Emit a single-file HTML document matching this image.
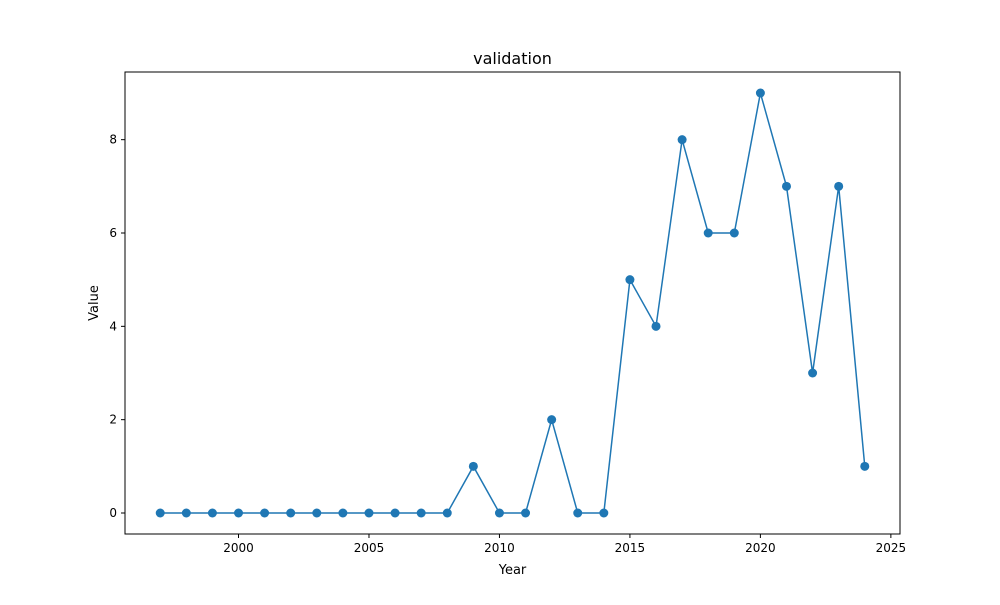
<!DOCTYPE html>
<html><head><meta charset="utf-8"><style>
body{margin:0;background:#fff;font-family:"Liberation Sans","DejaVu Sans",sans-serif;}
</style></head><body>
<svg id="chart" width="1000" height="600" xmlns="http://www.w3.org/2000/svg" font-family="DejaVu Sans, Liberation Sans, sans-serif">
<rect width="1000" height="600" fill="#fff"/>
<text x="512.5" y="64" font-size="16" text-anchor="middle">validation</text>
<text x="512.5" y="574" font-size="13" text-anchor="middle">Year</text>
<text x="98" y="303" font-size="13" text-anchor="middle" transform="rotate(-90 98 303)">Value</text>
<g id="plot"></g>
<rect x="125" y="72" width="775" height="462" fill="none" stroke="#000" stroke-width="1"/>
</svg>
<script>
const years=[1997,1998,1999,2000,2001,2002,2003,2004,2005,2006,2007,2008,2009,2010,2011,2012,2013,2014,2015,2016,2017,2018,2019,2020,2021,2022,2023,2024];
const values=[0,0,0,0,0,0,0,0,0,0,0,0,1,0,0,2,0,0,5,4,8,6,6,9,7,3,7,1];
const xTicks=[2000,2005,2010,2015,2020,2025];
const yTicks=[0,2,4,6,8];
const L=125,R=900,T=72,B=534;
const xmin=Math.min(...years),xmax=Math.max(...years),xp=(xmax-xmin)*0.05;
const ymin=Math.min(...values),ymax=Math.max(...values),yp=(ymax-ymin)*0.05;
const x=v=>L+(v-(xmin-xp))/((xmax+xp)-(xmin-xp))*(R-L);
const y=v=>B-(v-(ymin-yp))/((ymax+yp)-(ymin-yp))*(B-T);
const ns="http://www.w3.org/2000/svg",g=document.getElementById('plot');
function mk(t,a){const e=document.createElementNS(ns,t);for(const k in a)e.setAttribute(k,a[k]);g.appendChild(e);return e;}
xTicks.forEach(t=>{
  const l=mk('line',{x1:x(t),x2:x(t),y1:B,y2:B+4,stroke:'#000'});
  
  
  const tx=mk('text',{x:x(t),y:B+18,'font-size':12,'text-anchor':'middle'});tx.textContent=t;
  
  
});
yTicks.forEach(t=>{
  const l=mk('line',{x1:L-4,x2:L,y1:y(t),y2:y(t),stroke:'#000'});
  
  
  const tx=mk('text',{x:L-8,y:y(t)+4,'font-size':12,'text-anchor':'end'});tx.textContent=t;
  
  
});
const line=mk('polyline',{points:years.map((yr,i)=>x(yr)+','+y(values[i])).join(' '),fill:'none',stroke:'#1f77b4','stroke-width':1.5});


years.forEach((yr,i)=>{
  const c=mk('circle',{cx:x(yr),cy:y(values[i]),r:4.5,fill:'#1f77b4'});
  
  
});
</script>
</body></html>
